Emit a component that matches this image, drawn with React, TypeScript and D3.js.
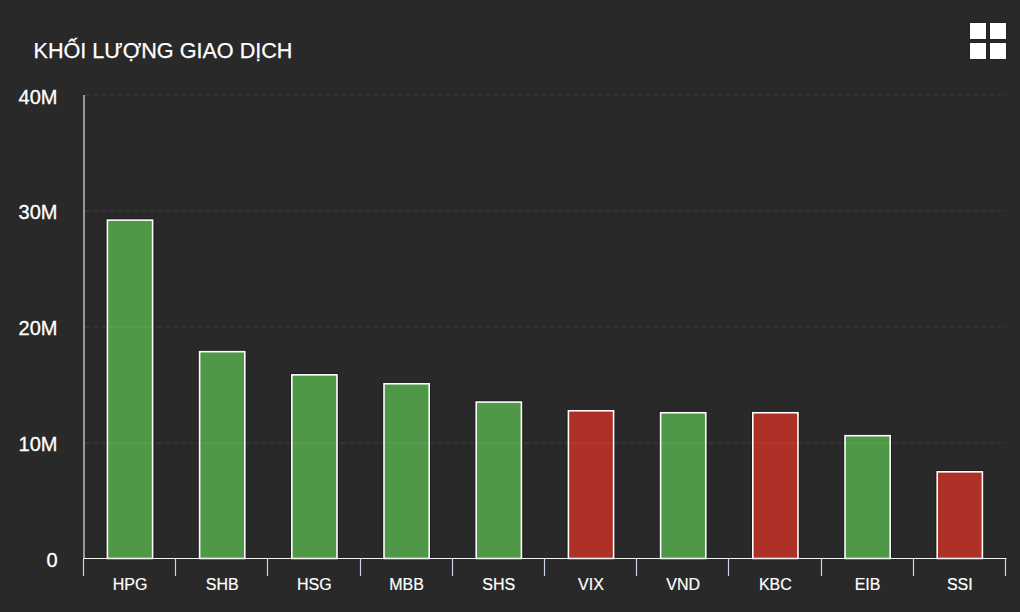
import React from "react";
import * as d3 from "d3";

const title = "KHỐI LƯỢNG GIAO DỊCH";
const categories = ["HPG", "SHB", "HSG", "MBB", "SHS", "VIX", "VND", "KBC", "EIB", "SSI"];
const volumes = [29.2, 17.85, 15.85, 15.08, 13.5, 12.75, 12.58, 12.58, 10.6, 7.48];
const directions = ["up", "up", "up", "up", "up", "down", "up", "down", "up", "down"];
const yTicks = [0, 10, 20, 30, 40];

const W = 1020, H = 612;
const FONT = "'Liberation Sans', Arial, sans-serif";
const left = 83.5, right = 1005.5, top = 95, bottom = 558.5;

export default function App() {
  const x = d3.scaleBand<string>().domain(categories).range([left, right]).paddingInner(0).paddingOuter(0);
  const y = d3.scaleLinear().domain([0, 40]).range([bottom, top]);
  const barW = 45.2;
  const edges = [...categories.map((c) => x(c) as number), right];
  const colour = d3.scaleOrdinal<string, string>().domain(["up", "down"]).range(["#4f9847", "#ae3026"]);
  return (
    <svg width={W} height={H} viewBox={`0 0 ${W} ${H}`} style={{ position: "absolute", left: 0, top: 0, background: "#292929" }}>
      <rect width={W} height={H} fill="#292929" />
      <text x={33.5} y={57.5} fill="#fff" stroke="#fff" strokeWidth={0.25} fontFamily={FONT} fontSize={21.6}>{title}</text>
      <g fill="#fff" stroke="#222" strokeWidth={1}>
        <rect x={969.5} y={22.5} width={17} height={17} />
        <rect x={989.5} y={22.5} width={17} height={17} />
        <rect x={969.5} y={42.5} width={17} height={17} />
        <rect x={989.5} y={42.5} width={17} height={17} />
      </g>
      {yTicks.map((t) => (
        <text key={t} x={57.5} y={y(t) + 8.5} textAnchor="end" fill="#fff" stroke="#fff" strokeWidth={0.3} fontFamily={FONT} fontSize={20}>
          {t === 0 ? "0" : `${t}M`}
        </text>
      ))}
      {categories.map((c, i) => {
        const bx = (x(c) as number) + (x.bandwidth() - barW) / 2 + 0.4;
        return (
          <g key={c}>
            <rect x={bx} y={y(volumes[i])} width={barW} height={bottom - y(volumes[i])}
              fill="none" stroke="#1e1e1e" strokeWidth={3.6} />
            <rect x={bx} y={y(volumes[i])} width={barW} height={bottom - y(volumes[i])}
              fill={colour(directions[i])} stroke="#fff" strokeWidth={1.6} />
          </g>
        );
      })}
      {yTicks.filter((t) => t > 0).map((t) => (
        <line key={t} x1={left + 1} x2={right} y1={Math.round(y(t))} y2={Math.round(y(t))} stroke="#fff" strokeOpacity={0.11} strokeWidth={1} strokeDasharray="5 3" />
      ))}
      <line x1={84} x2={84} y1={top} y2={bottom} stroke="#e4e4e4" strokeWidth={1.2} />
      <line x1={left} x2={right + 1} y1={bottom} y2={bottom} stroke="#f4f4f4" strokeWidth={1.2} />
      {edges.map((e, i) => (
        <line key={i} x1={Math.floor(e) + 0.5} x2={Math.floor(e) + 0.5} y1={bottom} y2={576} stroke="#ccd6eb" strokeWidth={1.2} />
      ))}
      {categories.map((c) => (
        <text key={c} x={(x(c) as number) + x.bandwidth() / 2 + 0.4} y={590} textAnchor="middle" fill="#fff" stroke="#fff" strokeWidth={0.2} fontFamily={FONT} fontSize={16}>{c}</text>
      ))}
    </svg>
  );
}
